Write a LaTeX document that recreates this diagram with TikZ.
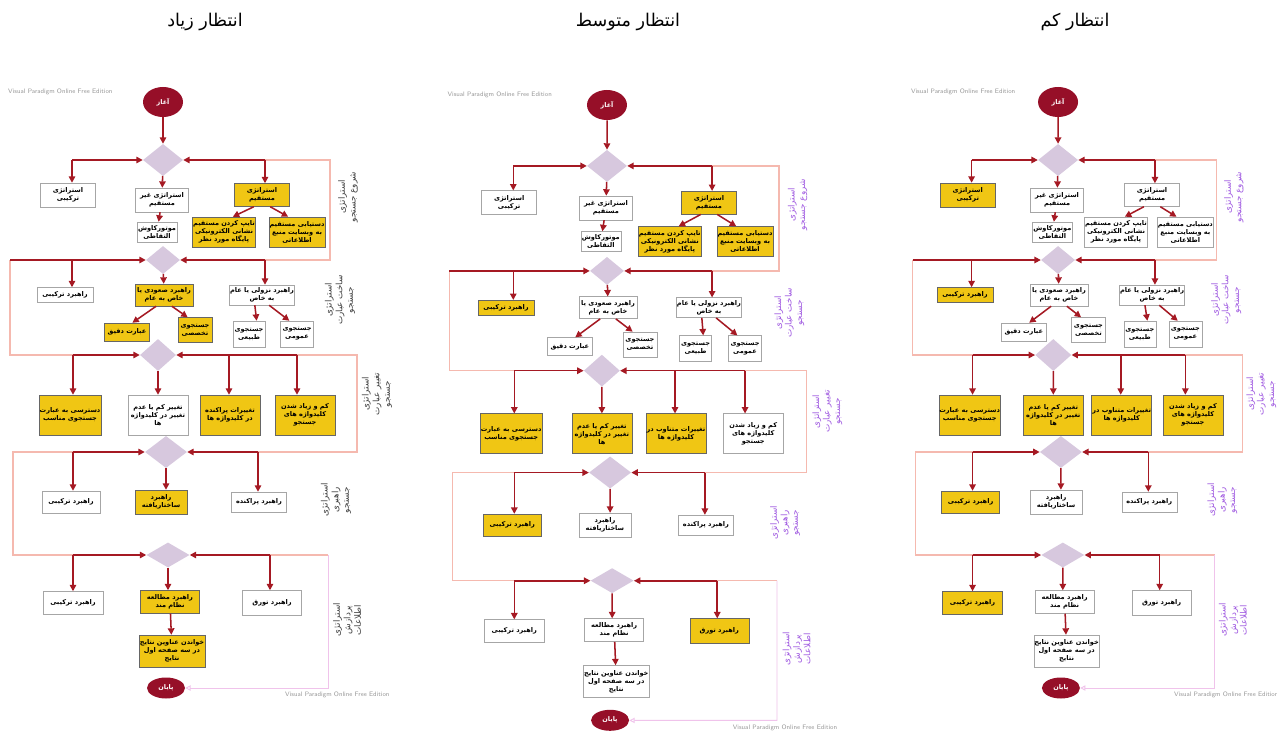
\documentclass[tikz,border=0pt]{standalone}
\usepackage{fontspec}
\usepackage{xcolor}
\usepackage{tikz}
\usetikzlibrary{shapes}
\usetikzlibrary{shapes.geometric}
\usetikzlibrary{arrows.meta}
\TeXXeTstate=1
\newfontfamily\farsi[Script=Arabic]{DejaVu Sans}
\newcommand\fatxt[1]{\beginR #1\endR}
\definecolor{vpred}{RGB}{165,25,35}
\definecolor{vpterm}{RGB}{150,15,40}
\definecolor{vpyellow}{RGB}{240,198,20}
\definecolor{vpdiam}{RGB}{215,200,222}
\definecolor{vppink}{RGB}{245,185,175}
\definecolor{vplav}{RGB}{240,195,235}
\definecolor{vppurple}{RGB}{160,90,225}
\tikzset{
    mybox/.style = {rectangle, draw=black!35, fill=white, align=center, inner sep=0.5pt, font=\farsi\bfseries\fontsize{5.6}{6.8}\selectfont},
    mydiam/.style = {diamond, fill=vpdiam, inner sep=0pt},
    myterm/.style = {ellipse, fill=vpterm, text=white, inner sep=0pt, font=\farsi\bfseries\fontsize{5.5}{6.8}\selectfont},
    sidelab/.style = {rotate=90, align=center, text=vppurple, inner sep=0pt, font=\farsi\fontsize{7.5}{9}\selectfont},
    watermark/.style = {anchor=west, text=black!40, inner sep=0pt, font=\sffamily\fontsize{5.5}{6}\selectfont},
    wh/.style 2 args = {minimum width=#1*0.03cm, minimum height=#2*0.03cm},
    blankbox/.style = {#1/.style={}},
    blankbox/.list = {r1a,r1b,r1c,r1d,r1e,r1f,r2a,r2b,r2c,r2d,r2e,r2f,r2g,r3a,r3b,r3c,r3d,r4a,r4b,r4c,r5a,r5b,r5c,r5d},
    yellowbox/.style = {#1/.append style={fill=vpyellow, draw=black!60}},
}
% one flow chart, in the pixel frame of the left one
\newcommand\drawflow[1]{%
\node[watermark] (wm1) at (8,92) {Visual Paradigm Online Free Edition};
\node[watermark] (wm2) at (285,695) {Visual Paradigm Online Free Edition};
\node[myterm, wh={40}{30}] (start) at (163,102) {\fatxt{آغاز}};
\node[mydiam, wh={40}{32}] (d1) at (163,160) {};
\node[mydiam, wh={34}{28}] (d2) at (163,260) {};
\node[mydiam, wh={36}{32}] (d3) at (158,355) {};
\node[mydiam, wh={42}{32}] (d4) at (166,452) {};
\node[mydiam, wh={43}{25}] (d5) at (168,555) {};
\node[myterm, wh={38}{21}] (finish) at (166,688) {\fatxt{پایان}};
%
\node[mybox, wh={55}{24}, r1a] (r1a) at (68,195) {\fatxt{استراتژی}\\\fatxt{ترکیبی}};
\node[mybox, wh={53}{24}, r1b] (r1b) at (162,200) {\fatxt{استراتژی غیر}\\\fatxt{مستقیم}};
\node[mybox, wh={55}{23}, r1c] (r1c) at (262,195) {\fatxt{استراتژی}\\\fatxt{مستقیم}};
\node[mybox, wh={40}{20}, r1d] (r1d) at (157,232) {\fatxt{موتورکاوش}\\\fatxt{التقاطی}};
\node[mybox, wh={52}{30}, r1e] (r1e) at (224,232) {\fatxt{تایپ کردن مستقیم}\\\fatxt{نشانی الکترونیکی}\\\fatxt{پایگاه مورد نظر}};
\node[mybox, wh={43}{30}, r1f] (r1f) at (297,232) {\fatxt{دستیابی مستقیم}\\\fatxt{به وبسایت منبع}\\\fatxt{اطلاعاتی}};
%
\node[mybox, wh={56}{15}, r2a] (r2a) at (65,295) {\fatxt{راهبرد ترکیبی}};
\node[mybox, wh={58}{22}, r2b] (r2b) at (164,295) {\fatxt{راهبرد صعودی یا}\\\fatxt{خاص به عام}};
\node[mybox, wh={60}{20}, r2c] (r2c) at (262,295) {\fatxt{راهبرد نزولی یا عام}\\\fatxt{به خاص}};
\node[mybox, wh={45}{18}, r2d] (r2d) at (127,332) {\fatxt{عبارت دقیق}};
\node[mybox, wh={34}{25}, r2e] (r2e) at (195,330) {\fatxt{جستجوی}\\\fatxt{تخصصی}};
\node[mybox, wh={32}{26}, r2f] (r2f) at (249,334) {\fatxt{جستجوی}\\\fatxt{طبیعی}};
\node[mybox, wh={33}{26}, r2g] (r2g) at (297,334) {\fatxt{جستجوی}\\\fatxt{عمومی}};
%
\node[mybox, wh={59}{40}, r3a] (r3a) at (70,415) {\fatxt{دسترسی به عبارت}\\\fatxt{جستجوی مناسب}};
\node[mybox, wh={60}{40}, r3b] (r3b) at (158,415) {\fatxt{تغییر کم یا عدم}\\\fatxt{تغییر در کلیدواژه}\\\fatxt{ها}};
\node[mybox, wh={60}{40}, r3c] (r3c) at (230,415) {#1};
\node[mybox, wh={60}{40}, r3d] (r3d) at (305,415) {\fatxt{کم و زیاد شدن}\\\fatxt{کلیدواژه های}\\\fatxt{جستجو}};
%
\node[mybox, wh={58}{22}, r4a] (r4a) at (71,502) {\fatxt{راهبرد ترکیبی}};
\node[mybox, wh={52}{24}, r4b] (r4b) at (161,502) {\fatxt{راهبرد}\\\fatxt{ساختاریافته}};
\node[mybox, wh={55}{20}, r4c] (r4c) at (259,502) {\fatxt{راهبرد پراکنده}};
%
\node[mybox, wh={60}{23}, r5a] (r5a) at (73,603) {\fatxt{راهبرد ترکیبی}};
\node[mybox, wh={59}{23}, r5b] (r5b) at (170,602) {\fatxt{راهبرد مطالعه}\\\fatxt{نظام مند}};
\node[mybox, wh={59}{25}, r5c] (r5c) at (272,603) {\fatxt{راهبرد تورق}};
\node[mybox, wh={62}{32}, r5d] (r5d) at (172,651) {\fatxt{خواندن عناوین نتایج}\\\fatxt{در سه صفحه اول}\\\fatxt{نتایج}};
%
\node[sidelab] (l1) at (348,197) {\fatxt{استراتژی}\\\fatxt{شروع جستجو}};
\node[sidelab] (l2) at (340,300) {\fatxt{استراتژی}\\\fatxt{ساخت عبارت}\\\fatxt{جستجو}};
\node[sidelab] (l3) at (377,394) {\fatxt{استراتژی}\\\fatxt{تغییر عبارت}\\\fatxt{جستجو}};
\node[sidelab] (l4) at (336,500) {\fatxt{استراتژی}\\\fatxt{راهبری}\\\fatxt{جستجو}};
\node[sidelab] (l5) at (347,620) {\fatxt{استراتژی}\\\fatxt{پردازش}\\\fatxt{اطلاعات}};
%
\coordinate (c1l) at (72,160);
\coordinate (c1r) at (265,160);
\coordinate (c1p) at (330,160);
\coordinate (c2l) at (10,260);
\coordinate (c2a) at (72,260);
\coordinate (c2r) at (265,260);
\coordinate (c3l) at (73,355);
\coordinate (c3b) at (229,355);
\coordinate (c3r) at (297,355);
\coordinate (c3p) at (357,355);
\coordinate (c4p) at (13,452);
\coordinate (c4l) at (73,452);
\coordinate (c4r) at (258,452);
\coordinate (c5l) at (73,555);
\coordinate (c5r) at (270,555);
\coordinate (c5p) at (328,555);
%
\draw[edgep] (c1r) -- (c1p) -- (c1p |- c2r) -- (c2r);
\draw[edgep] (c2l) -- (c2l |- c3l) -- (c3l);
\draw[edgep] (c3r) -- (c3p) -- (c3p |- c4r) -- (c4r);
\draw[edgep] (c4l) -- (c4p) -- (c4p |- c5l) -- (c5l);
\draw[edgep] (c5r) -- (c5p);
\draw[edgev] (c5p) -- (c5p |- finish) -- (finish);
%
\draw[edger] (start) -- (d1);
\draw[edger] (c1l) -- (d1.west);
\draw[edger] (c1r) -- (d1.east);
\draw[edger] (c1l) -- (c1l |- r1a.north);
\draw[edger] (d1) -- (r1b);
\draw[edger] (c1r) -- (c1r |- r1c.north);
\draw[edger] (r1b) -- (r1d);
\draw[edger] (r1c.235) -- (r1e.60);
\draw[edger] (r1c.305) -- (r1f.120);
%
\draw[edger] (c2l) -- (d2.west);
\draw[edger] (c2r) -- (d2.east);
\draw[edger] (c2a) -- (c2a |- r2a.north);
\draw[edger] (d2) -- (r2b);
\draw[edger] (c2r) -- (c2r |- r2c.north);
\draw[edger] (r2b.235) -- (r2d.60);
\draw[edger] (r2b.305) -- (r2e.120);
\draw[edger] (r2c.235) -- (r2f.60);
\draw[edger] (r2c.305) -- (r2g.120);
%
\draw[edger] (c3l) -- (d3.west);
\draw[edger] (c3r) -- (d3.east);
\draw[edger] (c3l) -- (c3l |- r3a.north);
\draw[edger] (d3) -- (d3 |- r3b.north);
\draw[edger] (c3b) -- (c3b |- r3c.north);
\draw[edger] (c3r) -- (c3r |- r3d.north);
%
\draw[edger] (c4l) -- (d4.west);
\draw[edger] (c4r) -- (d4.east);
\draw[edger] (c4l) -- (c4l |- r4a.north);
\draw[edger] (d4) -- (d4 |- r4b.north);
\draw[edger] (c4r) -- (c4r |- r4c.north);
%
\draw[edger] (c5l) -- (d5.west);
\draw[edger] (c5r) -- (d5.east);
\draw[edger] (c5l) -- (c5l |- r5a.north);
\draw[edger] (d5) -- (d5 |- r5b.north);
\draw[edger] (c5r) -- (c5r |- r5c.north);
\draw[edger] (r5b) -- (r5d);
}

\begin{document}
\begin{tikzpicture}[x=0.03cm, y=-0.03cm]
\tikzset{
    edger/.style = {-{Triangle[length=5.5pt,width=5.5pt]}, line width=1.3pt, vpred},
    edgep/.style = {line width=1pt, vppink},
    edgev/.style = {-{Triangle[open,length=4.5pt,width=4.5pt]}, line width=0.8pt, vplav},
    heading/.style = {font=\farsi\fontsize{15}{17}\selectfont}
}
\useasboundingbox (0,0) rectangle (1277,731);
\fill[white] (0,0) rectangle (1277,731);
\node[heading] (hhigh) at (205,22) {\fatxt{انتظار زیاد}};
\node[heading] (hmid) at (628,22) {\fatxt{انتظار متوسط}};
\node[heading] (hlow) at (1075,22) {\fatxt{انتظار کم}};
% high expectation
\begin{scope}[name prefix=hi-, sidelab/.append style={text=black!75},
    yellowbox/.list={r1c,r1e,r1f,r2b,r2d,r2e,r3a,r3c,r3d,r4b,r5b,r5d}]
\drawflow{\fatxt{تغییرات پراکنده}\\\fatxt{در کلیدواژه ها}}
\end{scope}
% medium expectation
\begin{scope}[name prefix=mid-, shift={(439.1,-2.1)}, xscale=1.03, yscale=1.05,
    yellowbox/.list={r1c,r1e,r1f,r2a,r3a,r3b,r3c,r4a,r5c}]
\drawflow{\fatxt{تغییرات متناوب در}\\\fatxt{کلیدواژه ها}}
\end{scope}
% low expectation
\begin{scope}[name prefix=lo-, shift={(903.2,0)}, xscale=0.95,
    yellowbox/.list={r1a,r2a,r3a,r3b,r3c,r3d,r4a,r5a}]
\drawflow{\fatxt{تغییرات متناوب در}\\\fatxt{کلیدواژه ها}}
\end{scope}
\end{tikzpicture}
\end{document}
